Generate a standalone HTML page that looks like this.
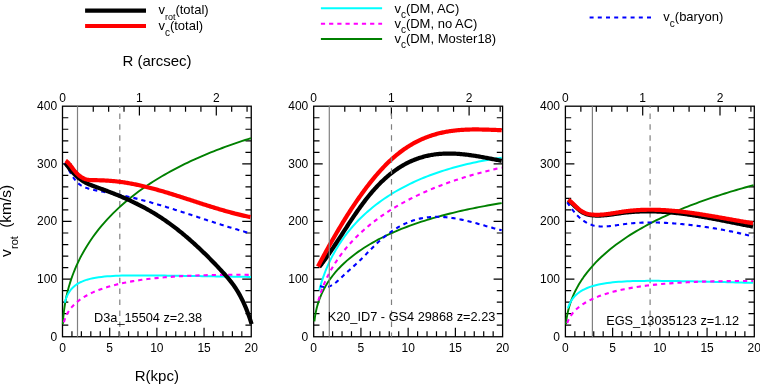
<!DOCTYPE html>
<html><head><meta charset="utf-8"><style>
html,body{margin:0;padding:0;background:#fff;width:760px;height:384px;overflow:hidden}
svg{display:block;will-change:transform}
text{font-family:"Liberation Sans",sans-serif;font-size:12px;fill:#000}
</style></head><body>
<svg width="760" height="384" viewBox="0 0 760 384">
<rect width="760" height="384" fill="#fff"/>

<line x1="85.1" y1="10.66" x2="146" y2="10.66" stroke="#000" stroke-width="4.2"/>
<line x1="85.1" y1="26" x2="146" y2="26" stroke="#f00" stroke-width="4.2"/>
<text x="158.4" y="14.2" style="font-size:13px">v<tspan style="font-size:9px" dy="5.6">rot</tspan><tspan dy="-5.6">(total)</tspan></text>
<text x="158.4" y="29.6" style="font-size:13px">v<tspan style="font-size:10px" dy="6">c</tspan><tspan dy="-6">(total)</tspan></text>
<line x1="320.9" y1="8.2" x2="382.1" y2="8.2" stroke="#0ff" stroke-width="2"/>
<line x1="320.9" y1="23.7" x2="382.1" y2="23.7" stroke="#f0f" stroke-width="2" stroke-dasharray="4.2 4"/>
<line x1="320.9" y1="39" x2="382.1" y2="39" stroke="#008000" stroke-width="2"/>
<text x="394.4" y="12.6" style="font-size:13px">v<tspan style="font-size:10px" dy="5.2">c</tspan><tspan dy="-5.2">(DM, AC)</tspan></text>
<text x="394.4" y="27.7" style="font-size:13px">v<tspan style="font-size:10px" dy="5.2">c</tspan><tspan dy="-5.2">(DM, no AC)</tspan></text>
<text x="394.4" y="42.8" style="font-size:13px">v<tspan style="font-size:10px" dy="5.2">c</tspan><tspan dy="-5.2">(DM, Moster18)</tspan></text>
<line x1="589.6" y1="17.5" x2="651" y2="17.5" stroke="#00f" stroke-width="2.1" stroke-dasharray="4 4.2"/>
<text x="663.3" y="20.6" style="font-size:13px">v<tspan style="font-size:10px" dy="6">c</tspan><tspan dy="-6">(baryon)</tspan></text>
<text x="157" y="66" style="font-size:15px" text-anchor="middle">R (arcsec)</text>
<text transform="translate(11.25,257) rotate(-90)" style="font-size:15.5px">v</text>
<text transform="translate(18.3,249) rotate(-90)" style="font-size:11px">rot</text>
<text transform="translate(11.2,227.8) rotate(-90)" style="font-size:15.5px">(km/s)</text>

<g><path d="M71.94,336.75V331.25 M81.38,336.75V331.25 M90.81,336.75V331.25 M100.25,336.75V331.25 M109.69,336.75V327.75 M119.12,336.75V331.25 M128.56,336.75V331.25 M138.00,336.75V331.25 M147.44,336.75V331.25 M156.88,336.75V327.75 M166.31,336.75V331.25 M175.75,336.75V331.25 M185.19,336.75V331.25 M194.62,336.75V331.25 M204.06,336.75V327.75 M213.50,336.75V331.25 M222.94,336.75V331.25 M232.38,336.75V331.25 M241.81,336.75V331.25 M93.26,106.20V111.80 M108.64,106.20V111.80 M124.02,106.20V111.80 M139.40,106.20V115.50 M154.78,106.20V111.80 M170.16,106.20V111.80 M185.54,106.20V111.80 M200.92,106.20V111.80 M216.30,106.20V115.50 M231.68,106.20V111.80 M247.06,106.20V111.80 M62.50,325.22H68.30 M251.25,325.22H245.45 M62.50,313.69H68.30 M251.25,313.69H245.45 M62.50,302.17H68.30 M251.25,302.17H245.45 M62.50,290.64H68.30 M251.25,290.64H245.45 M62.50,279.11H71.50 M251.25,279.11H242.25 M62.50,267.58H68.30 M251.25,267.58H245.45 M62.50,256.06H68.30 M251.25,256.06H245.45 M62.50,244.53H68.30 M251.25,244.53H245.45 M62.50,233.00H68.30 M251.25,233.00H245.45 M62.50,221.47H71.50 M251.25,221.47H242.25 M62.50,209.95H68.30 M251.25,209.95H245.45 M62.50,198.42H68.30 M251.25,198.42H245.45 M62.50,186.89H68.30 M251.25,186.89H245.45 M62.50,175.37H68.30 M251.25,175.37H245.45 M62.50,163.84H71.50 M251.25,163.84H242.25 M62.50,152.31H68.30 M251.25,152.31H245.45 M62.50,140.78H68.30 M251.25,140.78H245.45 M62.50,129.25H68.30 M251.25,129.25H245.45 M62.50,117.73H68.30 M251.25,117.73H245.45" stroke="#000" stroke-width="1.2" fill="none"/>
<rect x="62.50" y="106.20" width="188.75" height="230.55" fill="none" stroke="#000" stroke-width="1.3"/>
<line x1="77.50" y1="106.20" x2="77.50" y2="336.75" stroke="#808080" stroke-width="1.2"/>
<line x1="119.80" y1="106.20" x2="119.80" y2="336.75" stroke="#808080" stroke-width="1.2" stroke-dasharray="5.5 5.45" stroke-dashoffset="3.75"/>
<path d="M62.80,324.28 L63.28,317.52 L63.75,312.85 L64.23,309.08 L64.71,305.84 L65.18,302.97 L65.66,300.37 L66.13,297.98 L66.61,295.75 L67.09,293.66 L67.56,291.70 L68.04,289.83 L68.52,288.05 L68.99,286.35 L69.47,284.71 L69.94,283.14 L70.42,281.63 L70.90,280.16 L71.37,278.74 L71.85,277.37 L72.33,276.03 L72.80,274.73 L73.28,273.47 L73.75,272.23 L74.23,271.03 L74.71,269.85 L75.18,268.70 L75.66,267.58 L76.14,266.48 L76.61,265.40 L77.09,264.34 L77.56,263.30 L78.04,262.28 L78.52,261.28 L78.99,260.30 L79.47,259.34 L79.95,258.39 L80.42,257.45 L80.90,256.53 L81.38,255.63 L84.25,250.44 L87.12,245.65 L90.00,241.20 L92.88,237.04 L95.75,233.12 L98.62,229.41 L101.50,225.90 L104.38,222.55 L107.25,219.36 L110.12,216.31 L113.00,213.38 L115.88,210.57 L118.75,207.86 L121.62,205.26 L124.50,202.74 L127.38,200.32 L130.25,197.97 L133.12,195.69 L136.00,193.49 L138.88,191.36 L141.75,189.28 L144.62,187.27 L147.50,185.31 L150.38,183.41 L153.25,181.56 L156.12,179.75 L159.00,177.99 L161.88,176.28 L164.75,174.61 L167.62,172.98 L170.50,171.39 L173.38,169.84 L176.25,168.32 L179.12,166.84 L182.00,165.39 L184.88,163.97 L187.75,162.58 L190.62,161.22 L193.50,159.90 L196.38,158.59 L199.25,157.32 L202.12,156.07 L205.00,154.85 L207.88,153.65 L210.75,152.48 L213.62,151.32 L216.50,150.20 L219.38,149.09 L222.25,148.00 L225.12,146.93 L228.00,145.88 L230.88,144.86 L233.75,143.85 L236.62,142.85 L239.50,141.88 L242.37,140.92 L245.25,139.98 L248.12,139.06 L251.00,138.15" fill="none" stroke="#008000" stroke-width="1.9" stroke-linecap="butt" stroke-linejoin="round"/>
<path d="M64.70,302.76 L65.13,301.17 L65.56,299.77 L65.98,298.53 L66.41,297.41 L66.84,296.39 L67.27,295.46 L67.69,294.60 L68.12,293.80 L68.55,293.05 L68.98,292.36 L69.40,291.70 L69.83,291.09 L70.26,290.50 L70.69,289.95 L71.11,289.43 L71.54,288.93 L71.97,288.46 L72.40,288.01 L72.82,287.58 L73.25,287.17 L73.68,286.78 L74.11,286.40 L74.53,286.04 L74.96,285.70 L75.39,285.37 L75.82,285.05 L76.24,284.74 L76.67,284.45 L77.10,284.16 L77.53,283.89 L77.95,283.63 L78.38,283.37 L78.81,283.13 L79.24,282.89 L79.66,282.66 L80.09,282.44 L80.52,282.23 L80.95,282.02 L81.38,281.82 L84.25,280.63 L87.12,279.67 L90.00,278.88 L92.88,278.23 L95.75,277.70 L98.62,277.26 L101.50,276.89 L104.38,276.58 L107.25,276.33 L110.12,276.13 L113.00,275.96 L115.88,275.82 L118.75,275.71 L121.62,275.62 L124.50,275.55 L127.38,275.50 L130.25,275.46 L133.12,275.44 L136.00,275.42 L138.88,275.42 L141.75,275.42 L144.62,275.42 L147.50,275.44 L150.38,275.46 L153.25,275.48 L156.12,275.50 L159.00,275.53 L161.88,275.56 L164.75,275.60 L167.62,275.63 L170.50,275.67 L173.38,275.71 L176.25,275.75 L179.12,275.79 L182.00,275.83 L184.88,275.88 L187.75,275.92 L190.62,275.96 L193.50,276.01 L196.38,276.05 L199.25,276.10 L202.12,276.14 L205.00,276.19 L207.88,276.24 L210.75,276.28 L213.62,276.33 L216.50,276.38 L219.38,276.42 L222.25,276.47 L225.12,276.52 L228.00,276.56 L230.88,276.61 L233.75,276.66 L236.62,276.71 L239.50,276.75 L242.37,276.80 L245.25,276.85 L248.12,276.90 L251.00,276.94" fill="none" stroke="#00ffff" stroke-width="2" stroke-linecap="butt" stroke-linejoin="round"/>
<path d="M63.90,322.28 L64.35,320.64 L64.80,319.24 L65.24,318.00 L65.69,316.88 L66.14,315.87 L66.59,314.92 L67.04,314.05 L67.48,313.23 L67.93,312.46 L68.38,311.73 L68.83,311.03 L69.28,310.37 L69.72,309.74 L70.17,309.13 L70.62,308.55 L71.07,307.99 L71.52,307.45 L71.97,306.93 L72.41,306.42 L72.86,305.93 L73.31,305.46 L73.76,305.00 L74.21,304.55 L74.65,304.12 L75.10,303.70 L75.55,303.28 L76.00,302.88 L76.45,302.49 L76.89,302.11 L77.34,301.74 L77.79,301.37 L78.24,301.02 L78.69,300.67 L79.13,300.33 L79.58,299.99 L80.03,299.67 L80.48,299.35 L80.93,299.03 L81.38,298.72 L84.25,296.88 L87.12,295.22 L90.00,293.73 L92.88,292.37 L95.75,291.13 L98.62,289.99 L101.50,288.93 L104.38,287.96 L107.25,287.05 L110.12,286.21 L113.00,285.42 L115.88,284.69 L118.75,284.00 L121.62,283.35 L124.50,282.75 L127.38,282.18 L130.25,281.65 L133.12,281.15 L136.00,280.69 L138.88,280.24 L141.75,279.83 L144.62,279.44 L147.50,279.08 L150.38,278.73 L153.25,278.41 L156.12,278.11 L159.00,277.82 L161.88,277.56 L164.75,277.31 L167.62,277.07 L170.50,276.85 L173.38,276.65 L176.25,276.46 L179.12,276.28 L182.00,276.12 L184.88,275.97 L187.75,275.82 L190.62,275.70 L193.50,275.58 L196.38,275.47 L199.25,275.37 L202.12,275.28 L205.00,275.19 L207.88,275.12 L210.75,275.06 L213.62,275.00 L216.50,274.95 L219.38,274.91 L222.25,274.87 L225.12,274.84 L228.00,274.82 L230.88,274.81 L233.75,274.80 L236.62,274.79 L239.50,274.79 L242.37,274.80 L245.25,274.81 L248.12,274.83 L251.00,274.85" fill="none" stroke="#ff00ff" stroke-width="2.1" stroke-dasharray="4.2 4" stroke-linecap="butt" stroke-linejoin="round"/>
<path d="M64.80,162.89 L65.81,164.59 L66.82,166.34 L67.83,168.13 L68.84,169.93 L69.85,171.71 L70.86,173.46 L71.86,175.15 L72.87,176.75 L73.88,178.25 L74.89,179.64 L75.90,180.90 L76.91,182.04 L77.92,183.04 L78.93,183.91 L79.94,184.68 L80.95,185.35 L81.96,185.93 L82.97,186.45 L83.98,186.92 L84.98,187.34 L85.99,187.74 L87.00,188.10 L88.01,188.43 L89.02,188.74 L90.03,189.03 L91.04,189.29 L92.05,189.54 L93.06,189.77 L94.07,189.99 L95.08,190.20 L96.09,190.40 L97.10,190.60 L98.10,190.79 L99.11,190.98 L100.12,191.17 L101.13,191.36 L102.14,191.55 L103.15,191.74 L104.16,191.93 L105.17,192.11 L106.18,192.30 L107.19,192.48 L108.20,192.67 L109.21,192.86 L110.22,193.04 L111.22,193.23 L112.23,193.42 L113.24,193.61 L114.25,193.80 L115.26,193.99 L116.27,194.18 L117.28,194.38 L118.29,194.58 L119.30,194.78 L120.31,194.98 L121.32,195.18 L122.33,195.39 L123.34,195.60 L124.35,195.82 L125.35,196.03 L126.36,196.25 L127.37,196.47 L128.38,196.70 L129.39,196.93 L130.40,197.16 L131.41,197.40 L132.42,197.64 L133.43,197.88 L134.44,198.12 L135.45,198.37 L136.46,198.62 L137.47,198.87 L138.47,199.12 L139.48,199.38 L140.49,199.64 L141.50,199.90 L142.51,200.16 L143.52,200.43 L144.53,200.70 L145.54,200.97 L146.55,201.25 L147.56,201.52 L148.57,201.80 L149.58,202.08 L150.59,202.36 L151.59,202.65 L152.60,202.93 L153.61,203.22 L154.62,203.51 L155.63,203.81 L156.64,204.10 L157.65,204.40 L158.66,204.69 L159.67,204.99 L160.68,205.29 L161.69,205.60 L162.70,205.90 L163.71,206.21 L164.71,206.51 L165.72,206.82 L166.73,207.13 L167.74,207.44 L168.75,207.76 L169.76,208.07 L170.77,208.39 L171.78,208.70 L172.79,209.02 L173.80,209.34 L174.81,209.66 L175.82,209.98 L176.83,210.30 L177.83,210.62 L178.84,210.94 L179.85,211.27 L180.86,211.59 L181.87,211.92 L182.88,212.24 L183.89,212.57 L184.90,212.90 L185.91,213.23 L186.92,213.55 L187.93,213.88 L188.94,214.21 L189.95,214.54 L190.95,214.87 L191.96,215.20 L192.97,215.53 L193.98,215.86 L194.99,216.19 L196.00,216.52 L197.01,216.85 L198.02,217.18 L199.03,217.52 L200.04,217.85 L201.05,218.18 L202.06,218.51 L203.07,218.84 L204.07,219.17 L205.08,219.50 L206.09,219.83 L207.10,220.15 L208.11,220.48 L209.12,220.81 L210.13,221.14 L211.14,221.46 L212.15,221.79 L213.16,222.12 L214.17,222.44 L215.18,222.77 L216.19,223.09 L217.20,223.41 L218.20,223.73 L219.21,224.05 L220.22,224.37 L221.23,224.69 L222.24,225.01 L223.25,225.33 L224.26,225.64 L225.27,225.95 L226.28,226.27 L227.29,226.58 L228.30,226.89 L229.31,227.20 L230.32,227.51 L231.32,227.81 L232.33,228.12 L233.34,228.42 L234.35,228.72 L235.36,229.02 L236.37,229.32 L237.38,229.61 L238.39,229.91 L239.40,230.20 L240.41,230.49 L241.42,230.78 L242.43,231.07 L243.44,231.35 L244.44,231.64 L245.45,231.92 L246.46,232.19 L247.47,232.47 L248.48,232.75 L249.49,233.02 L250.50,233.29" fill="none" stroke="#0000ff" stroke-width="2.1" stroke-dasharray="4.2 4" stroke-linecap="butt" stroke-linejoin="round"/>
<path d="M65.30,163.01 L66.31,164.39 L67.31,165.74 L68.32,167.05 L69.33,168.33 L70.34,169.56 L71.34,170.76 L72.35,171.91 L73.36,173.02 L74.36,174.09 L75.37,175.10 L76.38,176.07 L77.38,176.98 L78.39,177.84 L79.40,178.65 L80.41,179.41 L81.41,180.12 L82.42,180.79 L83.43,181.42 L84.43,182.01 L85.44,182.57 L86.45,183.09 L87.45,183.59 L88.46,184.05 L89.47,184.50 L90.48,184.92 L91.48,185.32 L92.49,185.71 L93.50,186.09 L94.50,186.46 L95.51,186.82 L96.52,187.18 L97.52,187.53 L98.53,187.89 L99.54,188.25 L100.55,188.61 L101.55,188.98 L102.56,189.34 L103.57,189.71 L104.57,190.08 L105.58,190.45 L106.59,190.83 L107.60,191.21 L108.60,191.59 L109.61,191.97 L110.62,192.36 L111.62,192.75 L112.63,193.14 L113.64,193.54 L114.64,193.94 L115.65,194.34 L116.66,194.75 L117.67,195.16 L118.67,195.57 L119.68,195.99 L120.69,196.41 L121.69,196.83 L122.70,197.26 L123.71,197.70 L124.71,198.13 L125.72,198.58 L126.73,199.02 L127.74,199.48 L128.74,199.93 L129.75,200.39 L130.76,200.86 L131.76,201.33 L132.77,201.81 L133.78,202.29 L134.78,202.77 L135.79,203.27 L136.80,203.76 L137.81,204.27 L138.81,204.78 L139.82,205.29 L140.83,205.81 L141.83,206.34 L142.84,206.87 L143.85,207.41 L144.86,207.95 L145.86,208.50 L146.87,209.06 L147.88,209.63 L148.88,210.20 L149.89,210.77 L150.90,211.36 L151.90,211.95 L152.91,212.55 L153.92,213.15 L154.93,213.77 L155.93,214.39 L156.94,215.01 L157.95,215.65 L158.95,216.29 L159.96,216.94 L160.97,217.60 L161.97,218.27 L162.98,218.94 L163.99,219.62 L165.00,220.32 L166.00,221.01 L167.01,221.72 L168.02,222.43 L169.02,223.16 L170.03,223.89 L171.04,224.62 L172.04,225.37 L173.05,226.12 L174.06,226.88 L175.07,227.65 L176.07,228.43 L177.08,229.21 L178.09,230.00 L179.09,230.80 L180.10,231.61 L181.11,232.42 L182.12,233.24 L183.12,234.07 L184.13,234.90 L185.14,235.75 L186.14,236.60 L187.15,237.46 L188.16,238.32 L189.16,239.19 L190.17,240.07 L191.18,240.96 L192.19,241.85 L193.19,242.75 L194.20,243.66 L195.21,244.58 L196.21,245.50 L197.22,246.43 L198.23,247.36 L199.23,248.31 L200.24,249.26 L201.25,250.21 L202.26,251.18 L203.26,252.15 L204.27,253.12 L205.28,254.11 L206.28,255.10 L207.29,256.10 L208.30,257.10 L209.30,258.11 L210.31,259.13 L211.32,260.15 L212.33,261.18 L213.33,262.22 L214.34,263.26 L215.35,264.31 L216.35,265.36 L217.36,266.43 L218.37,267.49 L219.38,268.57 L220.38,269.65 L221.39,270.74 L222.40,271.83 L223.40,272.93 L224.41,274.03 L225.42,275.15 L226.42,276.28 L227.43,277.44 L228.44,278.62 L229.45,279.83 L230.45,281.07 L231.46,282.35 L232.47,283.68 L233.47,285.06 L234.48,286.49 L235.49,287.98 L236.49,289.53 L237.50,291.15 L238.51,292.84 L239.52,294.62 L240.52,296.47 L241.53,298.41 L242.54,300.44 L243.54,302.58 L244.55,304.81 L245.56,307.16 L246.56,309.63 L247.57,312.24 L248.58,314.99 L249.59,317.89 L250.59,320.96 L251.60,324.20" fill="none" stroke="#000000" stroke-width="4.2" stroke-linecap="butt" stroke-linejoin="round"/>
<path d="M65.60,160.65 L66.61,161.34 L67.62,162.23 L68.63,163.29 L69.64,164.49 L70.65,165.77 L71.66,167.10 L72.67,168.45 L73.68,169.76 L74.69,171.00 L75.70,172.17 L76.71,173.26 L77.72,174.27 L78.73,175.19 L79.75,176.03 L80.76,176.78 L81.77,177.43 L82.78,178.00 L83.79,178.49 L84.80,178.89 L85.81,179.23 L86.82,179.50 L87.83,179.72 L88.84,179.88 L89.85,180.01 L90.86,180.09 L91.87,180.15 L92.88,180.18 L93.89,180.20 L94.90,180.21 L95.91,180.21 L96.92,180.22 L97.93,180.24 L98.94,180.26 L99.95,180.28 L100.96,180.31 L101.97,180.35 L102.98,180.39 L103.99,180.44 L105.00,180.49 L106.02,180.54 L107.03,180.60 L108.04,180.67 L109.05,180.74 L110.06,180.82 L111.07,180.90 L112.08,180.99 L113.09,181.08 L114.10,181.18 L115.11,181.28 L116.12,181.39 L117.13,181.50 L118.14,181.62 L119.15,181.74 L120.16,181.87 L121.17,182.01 L122.18,182.15 L123.19,182.29 L124.20,182.44 L125.21,182.60 L126.22,182.76 L127.23,182.92 L128.24,183.09 L129.25,183.27 L130.26,183.45 L131.27,183.63 L132.29,183.82 L133.30,184.02 L134.31,184.22 L135.32,184.42 L136.33,184.63 L137.34,184.84 L138.35,185.05 L139.36,185.28 L140.37,185.50 L141.38,185.73 L142.39,185.96 L143.40,186.20 L144.41,186.44 L145.42,186.68 L146.43,186.93 L147.44,187.18 L148.45,187.43 L149.46,187.69 L150.47,187.95 L151.48,188.22 L152.49,188.48 L153.50,188.75 L154.51,189.03 L155.52,189.30 L156.53,189.58 L157.54,189.86 L158.56,190.15 L159.57,190.44 L160.58,190.73 L161.59,191.02 L162.60,191.31 L163.61,191.61 L164.62,191.91 L165.63,192.21 L166.64,192.51 L167.65,192.82 L168.66,193.12 L169.67,193.43 L170.68,193.74 L171.69,194.06 L172.70,194.37 L173.71,194.68 L174.72,195.00 L175.73,195.32 L176.74,195.64 L177.75,195.96 L178.76,196.28 L179.77,196.60 L180.78,196.93 L181.79,197.25 L182.80,197.58 L183.81,197.90 L184.83,198.23 L185.84,198.56 L186.85,198.88 L187.86,199.21 L188.87,199.54 L189.88,199.87 L190.89,200.20 L191.90,200.53 L192.91,200.86 L193.92,201.18 L194.93,201.51 L195.94,201.84 L196.95,202.17 L197.96,202.50 L198.97,202.83 L199.98,203.15 L200.99,203.48 L202.00,203.80 L203.01,204.13 L204.02,204.45 L205.03,204.78 L206.04,205.10 L207.05,205.42 L208.06,205.74 L209.07,206.06 L210.08,206.37 L211.10,206.69 L212.11,207.01 L213.12,207.32 L214.13,207.63 L215.14,207.94 L216.15,208.25 L217.16,208.55 L218.17,208.86 L219.18,209.16 L220.19,209.46 L221.20,209.76 L222.21,210.05 L223.22,210.35 L224.23,210.64 L225.24,210.93 L226.25,211.21 L227.26,211.49 L228.27,211.77 L229.28,212.05 L230.29,212.33 L231.30,212.60 L232.31,212.87 L233.32,213.13 L234.33,213.40 L235.34,213.66 L236.35,213.91 L237.37,214.16 L238.38,214.41 L239.39,214.66 L240.40,214.90 L241.41,215.14 L242.42,215.37 L243.43,215.60 L244.44,215.83 L245.45,216.05 L246.46,216.27 L247.47,216.49 L248.48,216.70 L249.49,216.90 L250.50,217.10" fill="none" stroke="#ff0000" stroke-width="4.2" stroke-linecap="butt" stroke-linejoin="round"/>
<text x="62.50" y="351.7" text-anchor="middle">0</text>
<text x="109.69" y="351.7" text-anchor="middle">5</text>
<text x="156.88" y="351.7" text-anchor="middle">10</text>
<text x="204.06" y="351.7" text-anchor="middle">15</text>
<text x="251.25" y="351.7" text-anchor="middle">20</text>
<text x="62.50" y="101.5" text-anchor="middle">0</text>
<text x="139.40" y="101.5" text-anchor="middle">1</text>
<text x="216.30" y="101.5" text-anchor="middle">2</text>
<text x="57.10" y="340.65" text-anchor="end">0</text>
<text x="57.10" y="283.01" text-anchor="end">100</text>
<text x="57.10" y="225.38" text-anchor="end">200</text>
<text x="57.10" y="167.74" text-anchor="end">300</text>
<text x="57.10" y="110.10" text-anchor="end">400</text>
<text x="94.00" y="321.80" style="font-size:12.75px">D3a_15504 z=2.38</text>
<text x="156.88" y="381" style="font-size:15px" text-anchor="middle">R(kpc)</text></g>
<g><path d="M323.14,336.75V331.25 M332.59,336.75V331.25 M342.03,336.75V331.25 M351.48,336.75V331.25 M360.93,336.75V327.75 M370.37,336.75V331.25 M379.81,336.75V331.25 M389.26,336.75V331.25 M398.71,336.75V331.25 M408.15,336.75V327.75 M417.60,336.75V331.25 M427.04,336.75V331.25 M436.49,336.75V331.25 M445.93,336.75V331.25 M455.38,336.75V327.75 M464.82,336.75V331.25 M474.26,336.75V331.25 M483.71,336.75V331.25 M493.16,336.75V331.25 M344.78,106.20V111.80 M360.32,106.20V111.80 M375.86,106.20V111.80 M391.40,106.20V115.50 M406.94,106.20V111.80 M422.48,106.20V111.80 M438.02,106.20V111.80 M453.56,106.20V111.80 M469.10,106.20V115.50 M484.64,106.20V111.80 M500.18,106.20V111.80 M313.70,325.22H319.50 M502.60,325.22H496.80 M313.70,313.69H319.50 M502.60,313.69H496.80 M313.70,302.17H319.50 M502.60,302.17H496.80 M313.70,290.64H319.50 M502.60,290.64H496.80 M313.70,279.11H322.70 M502.60,279.11H493.60 M313.70,267.58H319.50 M502.60,267.58H496.80 M313.70,256.06H319.50 M502.60,256.06H496.80 M313.70,244.53H319.50 M502.60,244.53H496.80 M313.70,233.00H319.50 M502.60,233.00H496.80 M313.70,221.47H322.70 M502.60,221.47H493.60 M313.70,209.95H319.50 M502.60,209.95H496.80 M313.70,198.42H319.50 M502.60,198.42H496.80 M313.70,186.89H319.50 M502.60,186.89H496.80 M313.70,175.37H319.50 M502.60,175.37H496.80 M313.70,163.84H322.70 M502.60,163.84H493.60 M313.70,152.31H319.50 M502.60,152.31H496.80 M313.70,140.78H319.50 M502.60,140.78H496.80 M313.70,129.25H319.50 M502.60,129.25H496.80 M313.70,117.73H319.50 M502.60,117.73H496.80" stroke="#000" stroke-width="1.2" fill="none"/>
<rect x="313.70" y="106.20" width="188.90" height="230.55" fill="none" stroke="#000" stroke-width="1.3"/>
<path d="M314.40,321.29 L314.87,317.56 L315.33,314.63 L315.80,312.16 L316.27,309.99 L316.73,308.05 L317.20,306.27 L317.66,304.63 L318.13,303.10 L318.60,301.67 L319.06,300.31 L319.53,299.03 L320.00,297.80 L320.46,296.63 L320.93,295.51 L321.40,294.43 L321.86,293.39 L322.33,292.38 L322.80,291.41 L323.26,290.47 L323.73,289.55 L324.19,288.67 L324.66,287.80 L325.13,286.96 L325.59,286.14 L326.06,285.34 L326.53,284.56 L326.99,283.80 L327.46,283.05 L327.93,282.32 L328.39,281.61 L328.86,280.91 L329.33,280.22 L329.79,279.54 L330.26,278.88 L330.72,278.23 L331.19,277.59 L331.66,276.97 L332.12,276.35 L332.59,275.74 L335.46,272.22 L338.32,268.99 L341.19,266.01 L344.06,263.23 L346.92,260.64 L349.79,258.20 L352.65,255.89 L355.52,253.71 L358.39,251.63 L361.25,249.66 L364.12,247.77 L366.99,245.97 L369.85,244.24 L372.72,242.59 L375.58,240.99 L378.45,239.46 L381.32,237.98 L384.18,236.56 L387.05,235.19 L389.92,233.86 L392.78,232.57 L395.65,231.33 L398.51,230.13 L401.38,228.96 L404.25,227.83 L407.11,226.74 L409.98,225.67 L412.85,224.64 L415.71,223.64 L418.58,222.66 L421.44,221.72 L424.31,220.79 L427.18,219.90 L430.04,219.02 L432.91,218.17 L435.78,217.35 L438.64,216.54 L441.51,215.76 L444.37,214.99 L447.24,214.25 L450.11,213.52 L452.97,212.81 L455.84,212.12 L458.71,211.44 L461.57,210.79 L464.44,210.14 L467.30,209.52 L470.17,208.91 L473.04,208.31 L475.90,207.73 L478.77,207.16 L481.64,206.60 L484.50,206.06 L487.37,205.53 L490.23,205.02 L493.10,204.51 L495.97,204.02 L498.83,203.54 L501.70,203.07" fill="none" stroke="#008000" stroke-width="1.9" stroke-linecap="butt" stroke-linejoin="round"/>
<path d="M319.30,290.19 L319.64,288.89 L319.98,287.62 L320.32,286.40 L320.66,285.21 L321.00,284.05 L321.34,282.92 L321.69,281.82 L322.03,280.75 L322.37,279.70 L322.71,278.68 L323.05,277.68 L323.39,276.70 L323.73,275.74 L324.07,274.80 L324.41,273.87 L324.75,272.97 L325.09,272.08 L325.43,271.20 L325.77,270.35 L326.12,269.50 L326.46,268.67 L326.80,267.86 L327.14,267.05 L327.48,266.26 L327.82,265.48 L328.16,264.71 L328.50,263.96 L328.84,263.21 L329.18,262.47 L329.52,261.75 L329.86,261.03 L330.20,260.33 L330.55,259.63 L330.89,258.94 L331.23,258.26 L331.57,257.59 L331.91,256.92 L332.25,256.27 L332.59,255.62 L335.46,250.45 L338.32,245.71 L341.19,241.33 L344.06,237.26 L346.92,233.45 L349.79,229.87 L352.65,226.51 L355.52,223.32 L358.39,220.31 L361.25,217.45 L364.12,214.72 L366.99,212.12 L369.85,209.65 L372.72,207.28 L375.58,205.01 L378.45,202.84 L381.32,200.75 L384.18,198.75 L387.05,196.83 L389.92,194.99 L392.78,193.21 L395.65,191.51 L398.51,189.86 L401.38,188.28 L404.25,186.76 L407.11,185.29 L409.98,183.87 L412.85,182.51 L415.71,181.19 L418.58,179.92 L421.44,178.70 L424.31,177.51 L427.18,176.37 L430.04,175.27 L432.91,174.21 L435.78,173.19 L438.64,172.20 L441.51,171.25 L444.37,170.33 L447.24,169.44 L450.11,168.59 L452.97,167.77 L455.84,166.97 L458.71,166.21 L461.57,165.47 L464.44,164.76 L467.30,164.08 L470.17,163.42 L473.04,162.79 L475.90,162.18 L478.77,161.60 L481.64,161.04 L484.50,160.50 L487.37,159.98 L490.23,159.49 L493.10,159.02 L495.97,158.56 L498.83,158.13 L501.70,157.72" fill="none" stroke="#00ffff" stroke-width="2" stroke-linecap="butt" stroke-linejoin="round"/>
<path d="M318.40,300.63 L318.76,299.31 L319.13,298.04 L319.49,296.82 L319.86,295.64 L320.22,294.50 L320.58,293.39 L320.95,292.31 L321.31,291.27 L321.67,290.25 L322.04,289.25 L322.40,288.28 L322.77,287.33 L323.13,286.40 L323.49,285.50 L323.86,284.61 L324.22,283.74 L324.59,282.88 L324.95,282.05 L325.31,281.22 L325.68,280.42 L326.04,279.62 L326.40,278.84 L326.77,278.07 L327.13,277.32 L327.50,276.57 L327.86,275.84 L328.22,275.12 L328.59,274.41 L328.95,273.70 L329.32,273.01 L329.68,272.33 L330.04,271.66 L330.41,270.99 L330.77,270.34 L331.13,269.69 L331.50,269.05 L331.86,268.42 L332.23,267.80 L332.59,267.18 L335.46,262.55 L338.32,258.29 L341.19,254.33 L344.06,250.62 L346.92,247.14 L349.79,243.85 L352.65,240.73 L355.52,237.77 L358.39,234.95 L361.25,232.25 L364.12,229.67 L366.99,227.20 L369.85,224.82 L372.72,222.54 L375.58,220.34 L378.45,218.22 L381.32,216.18 L384.18,214.20 L387.05,212.29 L389.92,210.45 L392.78,208.66 L395.65,206.93 L398.51,205.26 L401.38,203.63 L404.25,202.06 L407.11,200.52 L409.98,199.04 L412.85,197.60 L415.71,196.19 L418.58,194.83 L421.44,193.50 L424.31,192.21 L427.18,190.96 L430.04,189.74 L432.91,188.55 L435.78,187.39 L438.64,186.26 L441.51,185.17 L444.37,184.10 L447.24,183.05 L450.11,182.04 L452.97,181.05 L455.84,180.09 L458.71,179.15 L461.57,178.23 L464.44,177.34 L467.30,176.47 L470.17,175.62 L473.04,174.79 L475.90,173.98 L478.77,173.20 L481.64,172.43 L484.50,171.68 L487.37,170.95 L490.23,170.24 L493.10,169.55 L495.97,168.87 L498.83,168.21 L501.70,167.57" fill="none" stroke="#ff00ff" stroke-width="2.1" stroke-dasharray="4.2 4" stroke-linecap="butt" stroke-linejoin="round"/>
<path d="M320.00,286.06 L321.01,286.36 L322.02,286.62 L323.03,286.82 L324.04,286.97 L325.05,287.05 L326.06,287.05 L327.07,286.96 L328.08,286.78 L329.08,286.50 L330.09,286.12 L331.10,285.66 L332.11,285.11 L333.12,284.49 L334.13,283.81 L335.14,283.06 L336.15,282.26 L337.16,281.41 L338.17,280.53 L339.18,279.62 L340.19,278.68 L341.20,277.73 L342.21,276.76 L343.22,275.80 L344.23,274.83 L345.24,273.88 L346.25,272.94 L347.25,272.01 L348.26,271.09 L349.27,270.17 L350.28,269.25 L351.29,268.34 L352.30,267.43 L353.31,266.52 L354.32,265.60 L355.33,264.68 L356.34,263.75 L357.35,262.82 L358.36,261.87 L359.37,260.92 L360.38,259.95 L361.39,258.97 L362.40,257.97 L363.41,256.96 L364.42,255.94 L365.43,254.91 L366.43,253.88 L367.44,252.84 L368.45,251.80 L369.46,250.76 L370.47,249.73 L371.48,248.70 L372.49,247.68 L373.50,246.66 L374.51,245.66 L375.52,244.68 L376.53,243.71 L377.54,242.76 L378.55,241.83 L379.56,240.92 L380.57,240.03 L381.58,239.15 L382.59,238.29 L383.59,237.45 L384.60,236.63 L385.61,235.82 L386.62,235.03 L387.63,234.26 L388.64,233.51 L389.65,232.78 L390.66,232.06 L391.67,231.36 L392.68,230.68 L393.69,230.01 L394.70,229.36 L395.71,228.73 L396.72,228.12 L397.73,227.52 L398.74,226.94 L399.75,226.38 L400.76,225.83 L401.76,225.31 L402.77,224.79 L403.78,224.30 L404.79,223.82 L405.80,223.36 L406.81,222.91 L407.82,222.49 L408.83,222.07 L409.84,221.68 L410.85,221.30 L411.86,220.93 L412.87,220.59 L413.88,220.26 L414.89,219.94 L415.90,219.64 L416.91,219.36 L417.92,219.10 L418.93,218.85 L419.94,218.61 L420.94,218.39 L421.95,218.19 L422.96,218.00 L423.97,217.83 L424.98,217.67 L425.99,217.52 L427.00,217.39 L428.01,217.27 L429.02,217.17 L430.03,217.08 L431.04,217.00 L432.05,216.94 L433.06,216.88 L434.07,216.85 L435.08,216.82 L436.09,216.80 L437.10,216.80 L438.11,216.81 L439.11,216.83 L440.12,216.86 L441.13,216.90 L442.14,216.95 L443.15,217.02 L444.16,217.09 L445.17,217.17 L446.18,217.26 L447.19,217.36 L448.20,217.48 L449.21,217.59 L450.22,217.72 L451.23,217.86 L452.24,218.01 L453.25,218.16 L454.26,218.32 L455.27,218.49 L456.27,218.66 L457.28,218.85 L458.29,219.04 L459.30,219.23 L460.31,219.43 L461.32,219.64 L462.33,219.86 L463.34,220.08 L464.35,220.30 L465.36,220.53 L466.37,220.77 L467.38,221.01 L468.39,221.26 L469.40,221.51 L470.41,221.76 L471.42,222.02 L472.43,222.28 L473.44,222.54 L474.44,222.81 L475.45,223.08 L476.46,223.35 L477.47,223.63 L478.48,223.90 L479.49,224.18 L480.50,224.47 L481.51,224.75 L482.52,225.03 L483.53,225.32 L484.54,225.60 L485.55,225.89 L486.56,226.17 L487.57,226.46 L488.58,226.75 L489.59,227.03 L490.60,227.32 L491.61,227.60 L492.62,227.88 L493.62,228.17 L494.63,228.45 L495.64,228.73 L496.65,229.00 L497.66,229.28 L498.67,229.55 L499.68,229.82 L500.69,230.08 L501.70,230.34" fill="none" stroke="#0000ff" stroke-width="2.1" stroke-dasharray="4.2 4" stroke-linecap="butt" stroke-linejoin="round"/>
<path d="M319.30,266.98 L320.31,265.70 L321.32,264.39 L322.32,263.06 L323.33,261.71 L324.34,260.34 L325.35,258.95 L326.35,257.55 L327.36,256.12 L328.37,254.69 L329.38,253.23 L330.39,251.77 L331.39,250.29 L332.40,248.80 L333.41,247.30 L334.42,245.79 L335.42,244.27 L336.43,242.75 L337.44,241.21 L338.45,239.68 L339.45,238.14 L340.46,236.59 L341.47,235.04 L342.48,233.49 L343.49,231.95 L344.49,230.40 L345.50,228.85 L346.51,227.31 L347.52,225.77 L348.52,224.23 L349.53,222.70 L350.54,221.18 L351.55,219.67 L352.56,218.16 L353.56,216.66 L354.57,215.18 L355.58,213.71 L356.59,212.25 L357.59,210.80 L358.60,209.37 L359.61,207.95 L360.62,206.55 L361.62,205.17 L362.63,203.80 L363.64,202.45 L364.65,201.13 L365.66,199.81 L366.66,198.52 L367.67,197.25 L368.68,196.00 L369.69,194.77 L370.69,193.56 L371.70,192.37 L372.71,191.20 L373.72,190.06 L374.73,188.93 L375.73,187.82 L376.74,186.74 L377.75,185.67 L378.76,184.63 L379.76,183.60 L380.77,182.60 L381.78,181.61 L382.79,180.65 L383.80,179.70 L384.80,178.78 L385.81,177.87 L386.82,176.98 L387.83,176.12 L388.83,175.27 L389.84,174.44 L390.85,173.63 L391.86,172.84 L392.86,172.07 L393.87,171.32 L394.88,170.58 L395.89,169.87 L396.90,169.17 L397.90,168.49 L398.91,167.83 L399.92,167.19 L400.93,166.56 L401.93,165.95 L402.94,165.36 L403.95,164.79 L404.96,164.23 L405.97,163.69 L406.97,163.17 L407.98,162.66 L408.99,162.17 L410.00,161.69 L411.00,161.23 L412.01,160.78 L413.02,160.36 L414.03,159.94 L415.03,159.54 L416.04,159.16 L417.05,158.79 L418.06,158.43 L419.07,158.09 L420.07,157.76 L421.08,157.45 L422.09,157.15 L423.10,156.86 L424.10,156.59 L425.11,156.33 L426.12,156.08 L427.13,155.85 L428.14,155.62 L429.14,155.41 L430.15,155.22 L431.16,155.03 L432.17,154.86 L433.17,154.70 L434.18,154.54 L435.19,154.41 L436.20,154.28 L437.20,154.16 L438.21,154.05 L439.22,153.96 L440.23,153.87 L441.24,153.80 L442.24,153.73 L443.25,153.67 L444.26,153.63 L445.27,153.59 L446.27,153.56 L447.28,153.54 L448.29,153.53 L449.30,153.53 L450.31,153.54 L451.31,153.56 L452.32,153.58 L453.33,153.61 L454.34,153.65 L455.34,153.70 L456.35,153.75 L457.36,153.81 L458.37,153.88 L459.38,153.96 L460.38,154.04 L461.39,154.13 L462.40,154.22 L463.41,154.33 L464.41,154.43 L465.42,154.54 L466.43,154.66 L467.44,154.79 L468.44,154.91 L469.45,155.05 L470.46,155.19 L471.47,155.33 L472.48,155.48 L473.48,155.63 L474.49,155.78 L475.50,155.94 L476.51,156.11 L477.51,156.27 L478.52,156.44 L479.53,156.62 L480.54,156.79 L481.55,156.97 L482.55,157.15 L483.56,157.34 L484.57,157.52 L485.58,157.71 L486.58,157.90 L487.59,158.09 L488.60,158.28 L489.61,158.48 L490.61,158.67 L491.62,158.87 L492.63,159.07 L493.64,159.27 L494.65,159.46 L495.65,159.66 L496.66,159.86 L497.67,160.06 L498.68,160.25 L499.68,160.45 L500.69,160.65 L501.70,160.84" fill="none" stroke="#000000" stroke-width="4.2" stroke-linecap="butt" stroke-linejoin="round"/>
<path d="M317.90,266.56 L318.91,264.66 L319.92,262.76 L320.93,260.88 L321.94,259.00 L322.95,257.13 L323.96,255.28 L324.97,253.43 L325.98,251.59 L326.99,249.76 L328.00,247.94 L329.01,246.14 L330.02,244.34 L331.03,242.55 L332.04,240.78 L333.05,239.01 L334.06,237.25 L335.07,235.51 L336.08,233.78 L337.09,232.06 L338.10,230.35 L339.11,228.65 L340.12,226.96 L341.13,225.28 L342.14,223.62 L343.15,221.97 L344.16,220.33 L345.17,218.70 L346.18,217.08 L347.19,215.48 L348.20,213.89 L349.21,212.31 L350.22,210.75 L351.23,209.20 L352.24,207.66 L353.25,206.13 L354.26,204.62 L355.27,203.12 L356.28,201.64 L357.29,200.17 L358.30,198.71 L359.31,197.27 L360.32,195.84 L361.33,194.42 L362.34,193.02 L363.35,191.64 L364.35,190.26 L365.36,188.91 L366.37,187.57 L367.38,186.24 L368.39,184.93 L369.40,183.63 L370.41,182.35 L371.42,181.09 L372.43,179.84 L373.44,178.61 L374.45,177.39 L375.46,176.19 L376.47,175.00 L377.48,173.83 L378.49,172.68 L379.50,171.55 L380.51,170.43 L381.52,169.33 L382.53,168.24 L383.54,167.17 L384.55,166.12 L385.56,165.09 L386.57,164.07 L387.58,163.08 L388.59,162.10 L389.60,161.13 L390.61,160.19 L391.62,159.26 L392.63,158.36 L393.64,157.47 L394.65,156.59 L395.66,155.74 L396.67,154.90 L397.68,154.08 L398.69,153.28 L399.70,152.50 L400.71,151.73 L401.72,150.98 L402.73,150.24 L403.74,149.53 L404.75,148.82 L405.76,148.14 L406.77,147.47 L407.78,146.81 L408.79,146.17 L409.80,145.55 L410.81,144.94 L411.82,144.34 L412.83,143.77 L413.84,143.20 L414.85,142.65 L415.86,142.11 L416.87,141.59 L417.88,141.08 L418.89,140.59 L419.90,140.11 L420.91,139.64 L421.92,139.19 L422.93,138.75 L423.94,138.32 L424.95,137.90 L425.96,137.50 L426.97,137.11 L427.98,136.73 L428.99,136.36 L430.00,136.01 L431.01,135.67 L432.02,135.33 L433.03,135.01 L434.04,134.71 L435.05,134.41 L436.06,134.12 L437.07,133.84 L438.08,133.58 L439.09,133.32 L440.10,133.07 L441.11,132.84 L442.12,132.61 L443.13,132.39 L444.14,132.19 L445.15,131.99 L446.16,131.80 L447.17,131.62 L448.18,131.45 L449.19,131.28 L450.20,131.13 L451.21,130.98 L452.22,130.84 L453.23,130.71 L454.24,130.59 L455.25,130.47 L456.25,130.36 L457.26,130.26 L458.27,130.17 L459.28,130.08 L460.29,130.00 L461.30,129.92 L462.31,129.85 L463.32,129.79 L464.33,129.74 L465.34,129.69 L466.35,129.64 L467.36,129.60 L468.37,129.57 L469.38,129.54 L470.39,129.51 L471.40,129.49 L472.41,129.47 L473.42,129.46 L474.43,129.46 L475.44,129.45 L476.45,129.45 L477.46,129.46 L478.47,129.47 L479.48,129.48 L480.49,129.49 L481.50,129.51 L482.51,129.53 L483.52,129.55 L484.53,129.57 L485.54,129.60 L486.55,129.63 L487.56,129.66 L488.57,129.69 L489.58,129.73 L490.59,129.76 L491.60,129.80 L492.61,129.84 L493.62,129.88 L494.63,129.92 L495.64,129.96 L496.65,130.00 L497.66,130.04 L498.67,130.08 L499.68,130.12 L500.69,130.16 L501.70,130.20" fill="none" stroke="#ff0000" stroke-width="4.2" stroke-linecap="butt" stroke-linejoin="round"/>
<line x1="329.30" y1="106.20" x2="329.30" y2="336.75" stroke="#808080" stroke-width="1.2"/>
<line x1="391.50" y1="106.20" x2="391.50" y2="336.75" stroke="#808080" stroke-width="1.2" stroke-dasharray="5.5 5.45" stroke-dashoffset="3.75"/>
<text x="313.70" y="351.7" text-anchor="middle">0</text>
<text x="360.93" y="351.7" text-anchor="middle">5</text>
<text x="408.15" y="351.7" text-anchor="middle">10</text>
<text x="455.38" y="351.7" text-anchor="middle">15</text>
<text x="502.60" y="351.7" text-anchor="middle">20</text>
<text x="313.70" y="101.5" text-anchor="middle">0</text>
<text x="391.40" y="101.5" text-anchor="middle">1</text>
<text x="469.10" y="101.5" text-anchor="middle">2</text>
<text x="308.30" y="340.65" text-anchor="end">0</text>
<text x="308.30" y="283.01" text-anchor="end">100</text>
<text x="308.30" y="225.38" text-anchor="end">200</text>
<text x="308.30" y="167.74" text-anchor="end">300</text>
<text x="308.30" y="110.10" text-anchor="end">400</text>
<text x="327.70" y="320.80" style="font-size:12.75px">K20_ID7 - GS4 29868 z=2.23</text></g>
<g><path d="M574.85,336.75V331.25 M584.29,336.75V331.25 M593.74,336.75V331.25 M603.18,336.75V331.25 M612.62,336.75V327.75 M622.07,336.75V331.25 M631.51,336.75V331.25 M640.96,336.75V331.25 M650.40,336.75V331.25 M659.85,336.75V327.75 M669.29,336.75V331.25 M678.74,336.75V331.25 M688.18,336.75V331.25 M697.63,336.75V331.25 M707.07,336.75V327.75 M716.52,336.75V331.25 M725.96,336.75V331.25 M735.41,336.75V331.25 M744.86,336.75V331.25 M580.86,106.20V111.80 M596.32,106.20V111.80 M611.78,106.20V111.80 M627.24,106.20V111.80 M642.70,106.20V115.50 M658.16,106.20V111.80 M673.62,106.20V111.80 M689.08,106.20V111.80 M704.54,106.20V111.80 M720.00,106.20V115.50 M735.46,106.20V111.80 M750.92,106.20V111.80 M565.40,325.22H571.20 M754.30,325.22H748.50 M565.40,313.69H571.20 M754.30,313.69H748.50 M565.40,302.17H571.20 M754.30,302.17H748.50 M565.40,290.64H571.20 M754.30,290.64H748.50 M565.40,279.11H574.40 M754.30,279.11H745.30 M565.40,267.58H571.20 M754.30,267.58H748.50 M565.40,256.06H571.20 M754.30,256.06H748.50 M565.40,244.53H571.20 M754.30,244.53H748.50 M565.40,233.00H571.20 M754.30,233.00H748.50 M565.40,221.47H574.40 M754.30,221.47H745.30 M565.40,209.95H571.20 M754.30,209.95H748.50 M565.40,198.42H571.20 M754.30,198.42H748.50 M565.40,186.89H571.20 M754.30,186.89H748.50 M565.40,175.37H571.20 M754.30,175.37H748.50 M565.40,163.84H574.40 M754.30,163.84H745.30 M565.40,152.31H571.20 M754.30,152.31H748.50 M565.40,140.78H571.20 M754.30,140.78H748.50 M565.40,129.25H571.20 M754.30,129.25H748.50 M565.40,117.73H571.20 M754.30,117.73H748.50" stroke="#000" stroke-width="1.2" fill="none"/>
<rect x="565.40" y="106.20" width="188.90" height="230.55" fill="none" stroke="#000" stroke-width="1.3"/>
<line x1="592.40" y1="106.20" x2="592.40" y2="336.75" stroke="#808080" stroke-width="1.2"/>
<line x1="650.10" y1="106.20" x2="650.10" y2="336.75" stroke="#808080" stroke-width="1.2" stroke-dasharray="5.5 5.45" stroke-dashoffset="3.75"/>
<path d="M565.90,324.48 L566.37,320.30 L566.84,317.17 L567.31,314.57 L567.79,312.30 L568.26,310.28 L568.73,308.44 L569.20,306.74 L569.67,305.15 L570.14,303.66 L570.62,302.25 L571.09,300.91 L571.56,299.63 L572.03,298.40 L572.50,297.23 L572.97,296.10 L573.44,295.00 L573.92,293.95 L574.39,292.92 L574.86,291.93 L575.33,290.96 L575.80,290.02 L576.27,289.11 L576.75,288.22 L577.22,287.34 L577.69,286.49 L578.16,285.66 L578.63,284.84 L579.10,284.05 L579.57,283.26 L580.05,282.49 L580.52,281.74 L580.99,281.00 L581.46,280.27 L581.93,279.56 L582.40,278.86 L582.88,278.17 L583.35,277.49 L583.82,276.82 L584.29,276.16 L587.16,272.34 L590.03,268.81 L592.90,265.53 L595.77,262.45 L598.64,259.54 L601.51,256.79 L604.38,254.18 L607.25,251.68 L610.12,249.29 L612.99,247.00 L615.86,244.81 L618.73,242.69 L621.60,240.65 L624.47,238.67 L627.33,236.77 L630.20,234.92 L633.07,233.13 L635.94,231.39 L638.81,229.70 L641.68,228.06 L644.55,226.46 L647.42,224.91 L650.29,223.39 L653.16,221.91 L656.03,220.47 L658.90,219.06 L661.77,217.69 L664.64,216.34 L667.51,215.03 L670.38,213.74 L673.25,212.48 L676.12,211.25 L678.99,210.04 L681.86,208.85 L684.73,207.69 L687.60,206.55 L690.47,205.44 L693.34,204.34 L696.21,203.27 L699.08,202.21 L701.95,201.17 L704.82,200.15 L707.69,199.15 L710.56,198.17 L713.42,197.20 L716.29,196.25 L719.16,195.31 L722.03,194.39 L724.90,193.48 L727.77,192.59 L730.64,191.71 L733.51,190.85 L736.38,189.99 L739.25,189.15 L742.12,188.33 L744.99,187.51 L747.86,186.71 L750.73,185.92 L753.60,185.14" fill="none" stroke="#008000" stroke-width="1.9" stroke-linecap="butt" stroke-linejoin="round"/>
<path d="M567.90,308.23 L568.32,306.96 L568.74,305.82 L569.16,304.79 L569.58,303.86 L570.00,302.99 L570.42,302.19 L570.84,301.44 L571.26,300.74 L571.68,300.08 L572.10,299.46 L572.52,298.87 L572.94,298.32 L573.36,297.79 L573.78,297.28 L574.20,296.80 L574.62,296.34 L575.04,295.90 L575.46,295.47 L575.88,295.07 L576.31,294.68 L576.73,294.30 L577.15,293.94 L577.57,293.59 L577.99,293.25 L578.41,292.93 L578.83,292.61 L579.25,292.31 L579.67,292.01 L580.09,291.73 L580.51,291.45 L580.93,291.19 L581.35,290.93 L581.77,290.67 L582.19,290.43 L582.61,290.19 L583.03,289.96 L583.45,289.74 L583.87,289.52 L584.29,289.31 L587.15,288.01 L590.01,286.92 L592.87,286.00 L595.73,285.22 L598.59,284.54 L601.45,283.97 L604.31,283.47 L607.17,283.04 L610.03,282.67 L612.88,282.35 L615.74,282.08 L618.60,281.85 L621.46,281.65 L624.32,281.48 L627.18,281.33 L630.04,281.21 L632.90,281.12 L635.76,281.04 L638.62,280.97 L641.48,280.92 L644.34,280.89 L647.20,280.86 L650.06,280.85 L652.92,280.84 L655.78,280.85 L658.64,280.86 L661.50,280.88 L664.36,280.90 L667.22,280.93 L670.07,280.97 L672.93,281.00 L675.79,281.05 L678.65,281.09 L681.51,281.14 L684.37,281.20 L687.23,281.25 L690.09,281.31 L692.95,281.37 L695.81,281.43 L698.67,281.49 L701.53,281.56 L704.39,281.62 L707.25,281.69 L710.11,281.76 L712.97,281.82 L715.83,281.89 L718.69,281.97 L721.55,282.04 L724.41,282.11 L727.26,282.18 L730.12,282.25 L732.98,282.33 L735.84,282.40 L738.70,282.48 L741.56,282.55 L744.42,282.63 L747.28,282.70 L750.14,282.78 L753.00,282.85" fill="none" stroke="#00ffff" stroke-width="2" stroke-linecap="butt" stroke-linejoin="round"/>
<path d="M567.20,323.18 L567.64,321.95 L568.08,320.85 L568.51,319.87 L568.95,318.96 L569.39,318.13 L569.83,317.35 L570.27,316.62 L570.71,315.93 L571.14,315.28 L571.58,314.66 L572.02,314.07 L572.46,313.50 L572.90,312.96 L573.33,312.43 L573.77,311.93 L574.21,311.45 L574.65,310.98 L575.09,310.52 L575.53,310.08 L575.96,309.66 L576.40,309.24 L576.84,308.84 L577.28,308.45 L577.72,308.07 L578.16,307.69 L578.59,307.33 L579.03,306.98 L579.47,306.63 L579.91,306.29 L580.35,305.96 L580.78,305.64 L581.22,305.33 L581.66,305.02 L582.10,304.71 L582.54,304.42 L582.98,304.12 L583.41,303.84 L583.85,303.56 L584.29,303.28 L587.15,301.60 L590.01,300.10 L592.87,298.74 L595.73,297.49 L598.59,296.36 L601.45,295.31 L604.31,294.34 L607.17,293.44 L610.03,292.61 L612.88,291.83 L615.74,291.11 L618.60,290.43 L621.46,289.79 L624.32,289.20 L627.18,288.64 L630.04,288.11 L632.90,287.62 L635.76,287.16 L638.62,286.72 L641.48,286.31 L644.34,285.92 L647.20,285.56 L650.06,285.22 L652.92,284.90 L655.78,284.59 L658.64,284.31 L661.50,284.04 L664.36,283.79 L667.22,283.56 L670.07,283.33 L672.93,283.13 L675.79,282.93 L678.65,282.75 L681.51,282.58 L684.37,282.42 L687.23,282.28 L690.09,282.14 L692.95,282.01 L695.81,281.90 L698.67,281.79 L701.53,281.69 L704.39,281.60 L707.25,281.51 L710.11,281.44 L712.97,281.37 L715.83,281.31 L718.69,281.26 L721.55,281.21 L724.41,281.17 L727.26,281.13 L730.12,281.10 L732.98,281.08 L735.84,281.06 L738.70,281.05 L741.56,281.04 L744.42,281.04 L747.28,281.04 L750.14,281.05 L753.00,281.06" fill="none" stroke="#ff00ff" stroke-width="2.1" stroke-dasharray="4.2 4" stroke-linecap="butt" stroke-linejoin="round"/>
<path d="M567.30,202.24 L568.31,203.86 L569.32,205.40 L570.33,206.88 L571.34,208.30 L572.35,209.65 L573.36,210.94 L574.36,212.18 L575.37,213.35 L576.38,214.46 L577.39,215.51 L578.40,216.51 L579.41,217.46 L580.42,218.34 L581.43,219.18 L582.44,219.96 L583.45,220.69 L584.46,221.37 L585.47,222.00 L586.48,222.59 L587.48,223.12 L588.49,223.61 L589.50,224.06 L590.51,224.46 L591.52,224.82 L592.53,225.14 L593.54,225.42 L594.55,225.67 L595.56,225.87 L596.57,226.05 L597.58,226.20 L598.59,226.31 L599.60,226.40 L600.60,226.46 L601.61,226.50 L602.62,226.51 L603.63,226.51 L604.64,226.48 L605.65,226.44 L606.66,226.39 L607.67,226.31 L608.68,226.23 L609.69,226.13 L610.70,226.02 L611.71,225.91 L612.72,225.78 L613.72,225.65 L614.73,225.51 L615.74,225.36 L616.75,225.22 L617.76,225.07 L618.77,224.92 L619.78,224.77 L620.79,224.62 L621.80,224.47 L622.81,224.33 L623.82,224.19 L624.83,224.06 L625.84,223.93 L626.85,223.81 L627.85,223.70 L628.86,223.59 L629.87,223.49 L630.88,223.39 L631.89,223.30 L632.90,223.21 L633.91,223.13 L634.92,223.05 L635.93,222.98 L636.94,222.91 L637.95,222.85 L638.96,222.79 L639.97,222.74 L640.97,222.69 L641.98,222.65 L642.99,222.61 L644.00,222.58 L645.01,222.55 L646.02,222.52 L647.03,222.50 L648.04,222.49 L649.05,222.48 L650.06,222.47 L651.07,222.47 L652.08,222.47 L653.09,222.48 L654.09,222.49 L655.10,222.50 L656.11,222.52 L657.12,222.54 L658.13,222.56 L659.14,222.59 L660.15,222.63 L661.16,222.66 L662.17,222.70 L663.18,222.75 L664.19,222.79 L665.20,222.84 L666.21,222.90 L667.21,222.95 L668.22,223.01 L669.23,223.08 L670.24,223.14 L671.25,223.21 L672.26,223.28 L673.27,223.36 L674.28,223.44 L675.29,223.52 L676.30,223.60 L677.31,223.69 L678.32,223.78 L679.33,223.87 L680.33,223.96 L681.34,224.06 L682.35,224.15 L683.36,224.26 L684.37,224.36 L685.38,224.46 L686.39,224.57 L687.40,224.68 L688.41,224.79 L689.42,224.91 L690.43,225.02 L691.44,225.14 L692.45,225.26 L693.45,225.38 L694.46,225.50 L695.47,225.63 L696.48,225.75 L697.49,225.88 L698.50,226.01 L699.51,226.14 L700.52,226.28 L701.53,226.42 L702.54,226.55 L703.55,226.70 L704.56,226.84 L705.57,226.98 L706.57,227.13 L707.58,227.28 L708.59,227.43 L709.60,227.59 L710.61,227.74 L711.62,227.90 L712.63,228.06 L713.64,228.23 L714.65,228.39 L715.66,228.56 L716.67,228.73 L717.68,228.90 L718.69,229.08 L719.70,229.26 L720.70,229.44 L721.71,229.62 L722.72,229.81 L723.73,229.99 L724.74,230.18 L725.75,230.38 L726.76,230.57 L727.77,230.77 L728.78,230.97 L729.79,231.18 L730.80,231.38 L731.81,231.59 L732.82,231.80 L733.82,232.02 L734.83,232.23 L735.84,232.45 L736.85,232.68 L737.86,232.90 L738.87,233.13 L739.88,233.36 L740.89,233.60 L741.90,233.84 L742.91,234.08 L743.92,234.32 L744.93,234.56 L745.94,234.81 L746.94,235.07 L747.95,235.32 L748.96,235.58 L749.97,235.84 L750.98,236.11 L751.99,236.37 L753.00,236.64" fill="none" stroke="#0000ff" stroke-width="2.1" stroke-dasharray="4.2 4" stroke-linecap="butt" stroke-linejoin="round"/>
<path d="M568.30,200.13 L569.31,200.94 L570.32,201.81 L571.33,202.73 L572.34,203.69 L573.35,204.67 L574.36,205.65 L575.37,206.63 L576.37,207.59 L577.38,208.53 L578.39,209.42 L579.40,210.26 L580.41,211.03 L581.42,211.73 L582.43,212.35 L583.44,212.90 L584.45,213.38 L585.46,213.80 L586.47,214.15 L587.48,214.46 L588.49,214.71 L589.50,214.93 L590.50,215.10 L591.51,215.24 L592.52,215.35 L593.53,215.44 L594.54,215.50 L595.55,215.55 L596.56,215.58 L597.57,215.60 L598.58,215.59 L599.59,215.58 L600.60,215.54 L601.61,215.50 L602.62,215.44 L603.63,215.36 L604.63,215.28 L605.64,215.19 L606.65,215.09 L607.66,214.98 L608.67,214.86 L609.68,214.74 L610.69,214.60 L611.70,214.47 L612.71,214.33 L613.72,214.19 L614.73,214.04 L615.74,213.89 L616.75,213.75 L617.76,213.60 L618.76,213.45 L619.77,213.31 L620.78,213.17 L621.79,213.03 L622.80,212.90 L623.81,212.77 L624.82,212.65 L625.83,212.53 L626.84,212.42 L627.85,212.32 L628.86,212.22 L629.87,212.13 L630.88,212.04 L631.89,211.96 L632.89,211.88 L633.90,211.81 L634.91,211.74 L635.92,211.68 L636.93,211.63 L637.94,211.58 L638.95,211.54 L639.96,211.50 L640.97,211.46 L641.98,211.43 L642.99,211.41 L644.00,211.39 L645.01,211.37 L646.02,211.36 L647.02,211.36 L648.03,211.36 L649.04,211.36 L650.05,211.37 L651.06,211.39 L652.07,211.40 L653.08,211.43 L654.09,211.45 L655.10,211.48 L656.11,211.52 L657.12,211.56 L658.13,211.60 L659.14,211.65 L660.15,211.70 L661.15,211.76 L662.16,211.82 L663.17,211.88 L664.18,211.95 L665.19,212.02 L666.20,212.09 L667.21,212.17 L668.22,212.25 L669.23,212.34 L670.24,212.43 L671.25,212.52 L672.26,212.62 L673.27,212.72 L674.28,212.82 L675.28,212.93 L676.29,213.04 L677.30,213.15 L678.31,213.26 L679.32,213.38 L680.33,213.50 L681.34,213.63 L682.35,213.76 L683.36,213.89 L684.37,214.02 L685.38,214.15 L686.39,214.29 L687.40,214.43 L688.41,214.58 L689.41,214.72 L690.42,214.87 L691.43,215.02 L692.44,215.17 L693.45,215.33 L694.46,215.49 L695.47,215.65 L696.48,215.81 L697.49,215.97 L698.50,216.14 L699.51,216.31 L700.52,216.48 L701.53,216.65 L702.54,216.82 L703.54,217.00 L704.55,217.17 L705.56,217.35 L706.57,217.53 L707.58,217.71 L708.59,217.90 L709.60,218.08 L710.61,218.27 L711.62,218.45 L712.63,218.64 L713.64,218.83 L714.65,219.02 L715.66,219.21 L716.67,219.41 L717.67,219.60 L718.68,219.80 L719.69,219.99 L720.70,220.19 L721.71,220.39 L722.72,220.58 L723.73,220.78 L724.74,220.98 L725.75,221.18 L726.76,221.38 L727.77,221.58 L728.78,221.78 L729.79,221.99 L730.80,222.19 L731.80,222.39 L732.81,222.59 L733.82,222.80 L734.83,223.00 L735.84,223.20 L736.85,223.40 L737.86,223.61 L738.87,223.81 L739.88,224.01 L740.89,224.21 L741.90,224.41 L742.91,224.62 L743.92,224.82 L744.93,225.02 L745.93,225.22 L746.94,225.42 L747.95,225.61 L748.96,225.81 L749.97,226.01 L750.98,226.21 L751.99,226.40 L753.00,226.60" fill="none" stroke="#000000" stroke-width="4.2" stroke-linecap="butt" stroke-linejoin="round"/>
<path d="M568.30,199.58 L569.31,200.37 L570.32,201.23 L571.33,202.14 L572.34,203.08 L573.35,204.05 L574.36,205.03 L575.37,206.00 L576.37,206.96 L577.38,207.89 L578.39,208.78 L579.40,209.61 L580.41,210.38 L581.42,211.08 L582.43,211.70 L583.44,212.24 L584.45,212.71 L585.46,213.12 L586.47,213.47 L587.48,213.77 L588.49,214.02 L589.50,214.22 L590.50,214.38 L591.51,214.51 L592.52,214.61 L593.53,214.69 L594.54,214.75 L595.55,214.78 L596.56,214.80 L597.57,214.80 L598.58,214.78 L599.59,214.75 L600.60,214.70 L601.61,214.64 L602.62,214.56 L603.63,214.47 L604.63,214.37 L605.64,214.26 L606.65,214.14 L607.66,214.01 L608.67,213.88 L609.68,213.73 L610.69,213.59 L611.70,213.43 L612.71,213.27 L613.72,213.11 L614.73,212.95 L615.74,212.78 L616.75,212.61 L617.76,212.45 L618.76,212.28 L619.77,212.12 L620.78,211.96 L621.79,211.81 L622.80,211.65 L623.81,211.51 L624.82,211.37 L625.83,211.24 L626.84,211.11 L627.85,210.99 L628.86,210.87 L629.87,210.77 L630.88,210.66 L631.89,210.57 L632.89,210.47 L633.90,210.39 L634.91,210.31 L635.92,210.23 L636.93,210.16 L637.94,210.10 L638.95,210.04 L639.96,209.99 L640.97,209.94 L641.98,209.90 L642.99,209.86 L644.00,209.83 L645.01,209.80 L646.02,209.78 L647.02,209.76 L648.03,209.75 L649.04,209.74 L650.05,209.74 L651.06,209.74 L652.07,209.74 L653.08,209.76 L654.09,209.77 L655.10,209.79 L656.11,209.81 L657.12,209.84 L658.13,209.87 L659.14,209.91 L660.15,209.95 L661.15,210.00 L662.16,210.04 L663.17,210.10 L664.18,210.15 L665.19,210.21 L666.20,210.28 L667.21,210.35 L668.22,210.42 L669.23,210.49 L670.24,210.57 L671.25,210.65 L672.26,210.74 L673.27,210.83 L674.28,210.92 L675.28,211.01 L676.29,211.11 L677.30,211.21 L678.31,211.32 L679.32,211.42 L680.33,211.53 L681.34,211.65 L682.35,211.76 L683.36,211.88 L684.37,212.00 L685.38,212.13 L686.39,212.25 L687.40,212.38 L688.41,212.51 L689.41,212.65 L690.42,212.78 L691.43,212.92 L692.44,213.06 L693.45,213.20 L694.46,213.35 L695.47,213.50 L696.48,213.64 L697.49,213.80 L698.50,213.95 L699.51,214.10 L700.52,214.26 L701.53,214.42 L702.54,214.57 L703.54,214.73 L704.55,214.90 L705.56,215.06 L706.57,215.23 L707.58,215.39 L708.59,215.56 L709.60,215.73 L710.61,215.90 L711.62,216.07 L712.63,216.24 L713.64,216.41 L714.65,216.59 L715.66,216.76 L716.67,216.93 L717.67,217.11 L718.68,217.29 L719.69,217.46 L720.70,217.64 L721.71,217.82 L722.72,218.00 L723.73,218.18 L724.74,218.35 L725.75,218.53 L726.76,218.71 L727.77,218.89 L728.78,219.07 L729.79,219.25 L730.80,219.43 L731.80,219.61 L732.81,219.79 L733.82,219.97 L734.83,220.15 L735.84,220.32 L736.85,220.50 L737.86,220.68 L738.87,220.85 L739.88,221.03 L740.89,221.20 L741.90,221.38 L742.91,221.55 L743.92,221.72 L744.93,221.90 L745.93,222.07 L746.94,222.24 L747.95,222.40 L748.96,222.57 L749.97,222.74 L750.98,222.90 L751.99,223.07 L753.00,223.23" fill="none" stroke="#ff0000" stroke-width="4.2" stroke-linecap="butt" stroke-linejoin="round"/>
<text x="565.40" y="351.7" text-anchor="middle">0</text>
<text x="612.62" y="351.7" text-anchor="middle">5</text>
<text x="659.85" y="351.7" text-anchor="middle">10</text>
<text x="707.07" y="351.7" text-anchor="middle">15</text>
<text x="754.30" y="351.7" text-anchor="middle">20</text>
<text x="565.40" y="101.5" text-anchor="middle">0</text>
<text x="642.70" y="101.5" text-anchor="middle">1</text>
<text x="720.00" y="101.5" text-anchor="middle">2</text>
<text x="560.00" y="340.65" text-anchor="end">0</text>
<text x="560.00" y="283.01" text-anchor="end">100</text>
<text x="560.00" y="225.38" text-anchor="end">200</text>
<text x="560.00" y="167.74" text-anchor="end">300</text>
<text x="560.00" y="110.10" text-anchor="end">400</text>
<text x="606.20" y="324.80" style="font-size:12.75px">EGS_13035123 z=1.12</text></g>
</svg></body></html>
